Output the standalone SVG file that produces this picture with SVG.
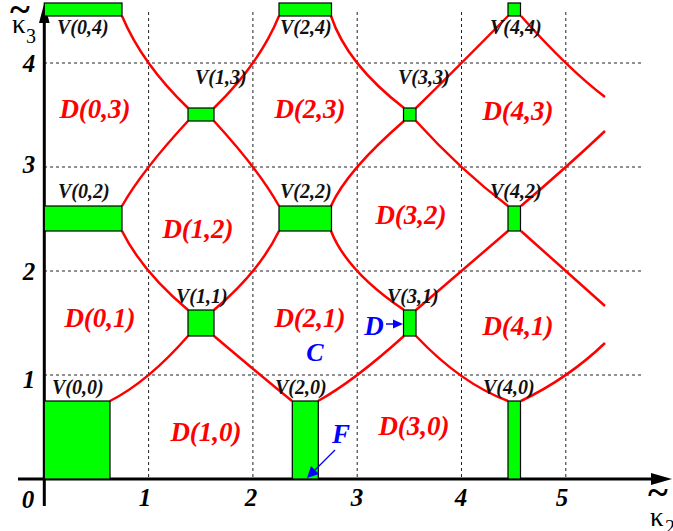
<svg xmlns="http://www.w3.org/2000/svg" width="673" height="531" viewBox="0 0 673 531">
<style>
.grid{stroke:#222;stroke-width:1;stroke-dasharray:3 3;fill:none}
.axis{stroke:#000;stroke-width:3;fill:none}
.cur{stroke:#ff0000;stroke-width:2.5;fill:none}
.box{fill:#00ff00;stroke:#000;stroke-width:1.2}
.vl{font-family:"Liberation Serif",serif;font-weight:bold;font-style:italic;font-size:20px;fill:#111}
.dl{font-family:"Liberation Serif",serif;font-weight:bold;font-style:italic;font-size:27px;fill:#ff0000;text-anchor:middle}
.bl{font-family:"Liberation Serif",serif;font-weight:bold;font-style:italic;fill:#0000ff}
.tk{font-family:"Liberation Serif",serif;font-weight:bold;font-style:italic;font-size:25px;fill:#000;text-anchor:middle}
.kp{font-family:"Liberation Serif",serif;fill:#000}
</style>
<rect width="673" height="531" fill="#fff"/>
<g id="grid">
<path class="grid" d="M148.6 12V479M252.9 12V479M357.2 12V479M461.5 12V479M565.8 12V479"/>
<path class="grid" d="M44 63H643M44 167H643M44 271H643M44 375H643"/>
</g>
<g id="axes">
<path class="axis" d="M44.3 506V20"/>
<polygon points="44.3,3 39,23 49.6,23" fill="#000"/>
<path class="axis" d="M18 479H655"/>
<polygon points="672,479 651,473 651,485" fill="#000"/>
</g>
<g id="connectors">
<path class="cur" d="M122 16Q142.2 64 188 108"/>
<path class="cur" d="M214 108Q259.3 64 279 16"/>
<path class="cur" d="M331 16Q346.9 64 404 108"/>
<path class="cur" d="M416 108Q461 64 508 16"/>
<path class="cur" d="M521 16Q568.6 69.5 605 97"/>
<path class="cur" d="M188 121Q142.2 170.5 122 206"/>
<path class="cur" d="M214 121Q259.3 170.5 279 206"/>
<path class="cur" d="M404 121Q346.9 170.5 331 206"/>
<path class="cur" d="M416 121Q461 170.5 508 206"/>
<path class="cur" d="M521 206Q568.6 165.5 605 131"/>
<path class="cur" d="M122 231Q142.2 271.5 188 310"/>
<path class="cur" d="M214 310Q259.3 271.5 279 231"/>
<path class="cur" d="M331 231Q346.9 271.5 404 310"/>
<path class="cur" d="M416 310Q461 271.5 508 231"/>
<path class="cur" d="M521 231Q568.6 273.5 605 306"/>
<path class="cur" d="M188 336Q148.2 381.5 110 401"/>
<path class="cur" d="M214 336Q263 377.5 292 401"/>
<path class="cur" d="M404 336Q353.4 381.5 318 401"/>
<path class="cur" d="M416 336Q461 383.5 508 401"/>
<path class="cur" d="M521 401Q568.6 378 605 343"/>
</g>
<g id="V00"><rect class="box" x="44.3" y="401" width="65.7" height="78"/><text class="vl" x="52" y="394">V(0,0)</text></g>
<g id="V20"><rect class="box" x="292.3" y="401" width="26" height="78"/><text class="vl" x="275" y="394">V(2,0)</text></g>
<g id="V40"><rect class="box" x="508" y="401" width="12.5" height="78"/><text class="vl" x="483" y="394">V(4,0)</text></g>
<g id="V11"><rect class="box" x="188" y="310" width="26" height="26"/><text class="vl" x="176" y="303">V(1,1)</text></g>
<g id="V31"><rect class="box" x="403.5" y="310" width="12.5" height="26"/><text class="vl" x="387" y="303">V(3,1)</text></g>
<g id="V02"><rect class="box" x="44.3" y="206" width="77.7" height="25"/><text class="vl" x="58" y="198">V(0,2)</text></g>
<g id="V22"><rect class="box" x="279" y="206" width="52.5" height="25"/><text class="vl" x="280" y="198">V(2,2)</text></g>
<g id="V42"><rect class="box" x="508" y="206" width="12.5" height="25"/><text class="vl" x="490" y="198">V(4,2)</text></g>
<g id="V13"><rect class="box" x="188" y="108" width="26" height="13"/><text class="vl" x="195" y="84">V(1,3)</text></g>
<g id="V33"><rect class="box" x="403.5" y="108" width="12.5" height="13"/><text class="vl" x="398" y="84">V(3,3)</text></g>
<g id="V04"><rect class="box" x="44.3" y="3" width="77.7" height="13"/><text class="vl" x="57" y="34">V(0,4)</text></g>
<g id="V24"><rect class="box" x="279" y="3" width="52.5" height="13"/><text class="vl" x="280" y="34">V(2,4)</text></g>
<g id="V44"><rect class="box" x="508" y="3" width="12.5" height="13"/><text class="vl" x="490" y="34">V(4,4)</text></g>
<g id="regions">
<text class="dl" x="95" y="118">D(0,3)</text>
<text class="dl" x="310" y="118">D(2,3)</text>
<text class="dl" x="518" y="120">D(4,3)</text>
<text class="dl" x="198" y="238">D(1,2)</text>
<text class="dl" x="411" y="224">D(3,2)</text>
<text class="dl" x="100" y="327">D(0,1)</text>
<text class="dl" x="310" y="327">D(2,1)</text>
<text class="dl" x="518" y="335">D(4,1)</text>
<text class="dl" x="206" y="441">D(1,0)</text>
<text class="dl" x="414" y="435">D(3,0)</text>
</g>
<g id="markers">
<text class="bl" x="315" y="361" font-size="26" text-anchor="middle">C</text>
<text class="bl" x="374" y="335" font-size="27" text-anchor="middle">D</text>
<path d="M386 324H396" stroke="#0000ff" stroke-width="1.5"/>
<polygon points="403,324 393,319.5 393,328.5" fill="#0000ff"/>
<text class="bl" x="341" y="443" font-size="27" text-anchor="middle">F</text>
<path d="M335 450L314 471" stroke="#0000ff" stroke-width="1.2"/>
<polygon points="307,478 311,466 319,474" fill="#0000ff"/>
</g>
<g id="ticks">
<text class="tk" x="28" y="508">0</text>
<text class="tk" x="145" y="506">1</text>
<text class="tk" x="251" y="506">2</text>
<text class="tk" x="357" y="506">3</text>
<text class="tk" x="461" y="506">4</text>
<text class="tk" x="562" y="506">5</text>
<text class="tk" x="29" y="388">1</text>
<text class="tk" x="29" y="280">2</text>
<text class="tk" x="29" y="173">3</text>
<text class="tk" x="29" y="72">4</text>
</g>
<g id="axis-labels">
<text class="kp" x="10" y="22" font-size="38" font-weight="bold">~</text>
<text class="kp" x="12" y="33" font-size="27">κ</text>
<text class="kp" x="26" y="43" font-size="20">3</text>
<text class="kp" x="648" y="505" font-size="38" font-weight="bold">~</text>
<text class="kp" x="650" y="526" font-size="27">κ</text>
<text class="kp" x="665" y="534" font-size="20">2</text>
</g>
</svg>
